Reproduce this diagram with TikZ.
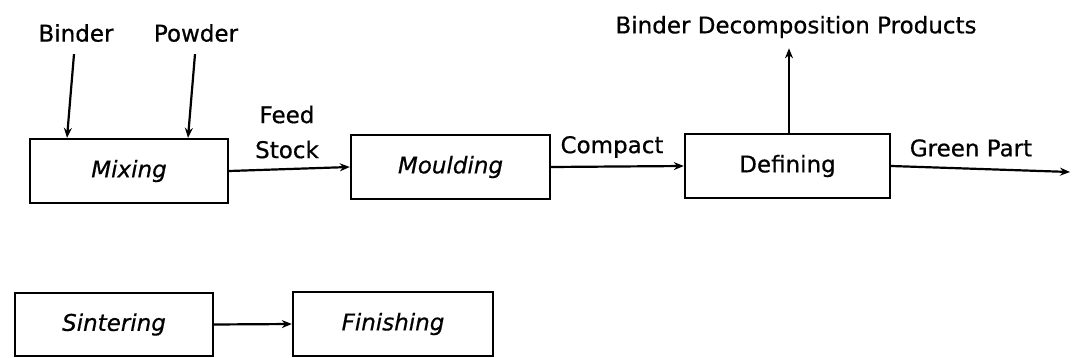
\documentclass[tikz,border=0pt]{standalone}
\usepackage{fontspec}
\setmainfont{DejaVu Sans}[FakeBold=0.6]
\usetikzlibrary{arrows.meta}
\begin{document}
\begin{tikzpicture}[x=1pt,y=-1pt,
  procbox/.style={draw,line width=2.4pt,minimum height=64pt,inner sep=0pt,font=\fontsize{23}{27}\selectfont\itshape},
  lbl/.style={font=\fontsize{23}{27}\selectfont,inner sep=0pt},
  arr/.style={line width=2.2pt,-{Stealth[length=10pt,width=8pt]}}]
\useasboundingbox (0,0) rectangle (1073,358);
\node[procbox,minimum width=198pt] (mixing) at (129,171) {Mixing};
\node[procbox,minimum width=199pt] (moulding) at (450.5,167) {Moulding};
\node[procbox,minimum width=205pt,font=\fontsize{23}{27}\selectfont] (defining) at (787.5,166) {Defining};
\node[procbox,minimum width=198pt,minimum height=63pt] (sintering) at (114,324.5) {Sintering};
\node[procbox,minimum width=200pt] (finishing) at (393,324) {Finishing};
\node[lbl] (binder) at (76,33) {Binder};
\node[lbl] (powder) at (196,33) {Powder};
\node[lbl,align=center,font=\fontsize{23}{35}\selectfont] (feed) at (287,132) {Feed\\Stock};
\node[lbl] (compact) at (612,147) {Compact};
\node[lbl] (green) at (971,148) {Green Part};
\node[lbl] (bdp) at (796,27) {Binder Decomposition Products};
\coordinate (gend) at (1070,172);
\draw[arr] ([xshift=-2pt,yshift=-12pt]binder.south) -- ([xshift=-62pt]mixing.north);
\draw[arr] ([xshift=-1pt,yshift=-12pt]powder.south) -- ([xshift=59pt]mixing.north);
\draw[arr] (mixing.east) -- (moulding.west);
\draw[arr] (moulding.east) -- (defining.west);
\draw[arr] (defining.east) -- (gend);
\draw[arr] ([xshift=1.5pt]defining.north) -- ([xshift=-7pt,yshift=-10pt]bdp.south);
\draw[arr] (sintering.east) -- (finishing.west);
\end{tikzpicture}
\end{document}
